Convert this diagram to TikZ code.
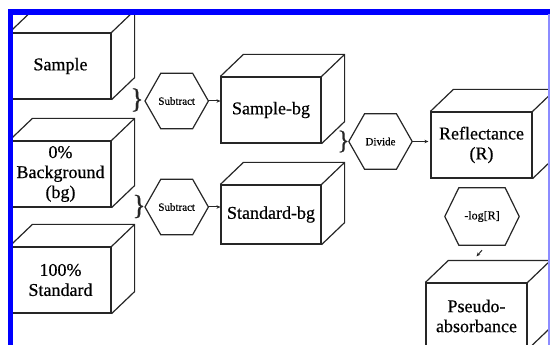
\documentclass[tikz,border=0pt]{standalone}
\usepackage{fontspec}
\setmainfont{Liberation Serif}[FakeBold=0.5]
\usetikzlibrary{calc,arrows.meta}

% depth faces of a box whose front face is the node #1
\newcommand\cubedepth[1]{%
  \draw[edge] (#1.north west) -- ++(23,-22) -- ($(#1.north east)+(23,-22)$)
    -- ($(#1.south east)+(23,-22)$) -- (#1.south east)
    (#1.north east) -- ++(23,-22);}
% hexagon outline around the node #1, with corner cut #2
\newcommand\hexoutline[2]{%
  \draw[edge] (#1.west) -- ([xshift=#2]#1.north west) -- ([xshift=-#2]#1.north east)
    -- (#1.east) -- ([xshift=-#2]#1.south east) -- ([xshift=#2]#1.south west) -- cycle;}

\begin{document}
\begin{tikzpicture}[x=1pt,y=-1pt,
  edge/.style={line width=1.2pt, draw=black!85, line join=miter},
  cube/.style={edge, rectangle, fill=white, inner sep=0pt,
    minimum width=101pt, minimum height=66pt, align=center,
    font=\fontsize{18}{20}\selectfont},
  hexa/.style={rectangle, inner sep=0pt, minimum width=63pt, minimum height=55pt,
    font=\fontsize{11}{12}\selectfont},
  arr/.style={line width=1pt, draw=black!85, -{Stealth[length=4pt,width=3.5pt]}},
  bracket/.style={inner sep=0pt, text=black!85},
]
\useasboundingbox (0,0) rectangle (550,345);

\begin{scope}
\clip (0,0) rectangle (548,345);

% input and result boxes
\node[cube] (sample) at (60.5,66) {Sample};
\node[cube] (bg) at (60.5,174) {0\%\\Background\\(bg)};
\node[cube] (std) at (60.5,280) {100\%\\Standard};
\node[cube, minimum width=100pt] (sbg) at (271,110) {Sample-bg};
\node[cube, minimum width=100pt, minimum height=59pt] (stdbg) at (271,214.5) {Standard-bg};
\node[cube] (refl) at (481.5,145) {Reflectance\\(R)};
\node[cube] (pseudo) at (476.5,316) {Pseudo-\\absorbance};
\foreach \n in {sample,bg,std,sbg,stdbg,refl,pseudo} {\cubedepth{\n}}

% operations
\node[hexa] (sub1) at (176.7,101) {Subtract};
\node[hexa] (sub2) at (176.7,207) {Subtract};
\node[hexa] (div) at (380.5,141.5) {Divide};
\node[hexa, minimum width=74pt, minimum height=57pt,
  font=\fontsize{12}{13}\selectfont] (logr) at (482,216.5) {-log[R]};
\hexoutline{sub1}{15.75pt}
\hexoutline{sub2}{15.75pt}
\hexoutline{div}{15.75pt}
\hexoutline{logr}{14pt}

% braces grouping the operands
\node[bracket, font=\fontsize{28}{28}\selectfont] (br1) at (137,100) {\}};
\node[bracket, font=\fontsize{28}{28}\selectfont] (br2) at (139,206.5) {\}};
\node[bracket, font=\fontsize{26}{26}\selectfont] (br3) at (343.5,141.5) {\}};

% flow
\draw[arr] (sub1.east) -- (sub1.east -| sbg.west);
\draw[arr] (sub2.east) -- (sub2.east -| stdbg.west);
\draw[arr] (div.east) -- ([xshift=-2pt]div.east -| refl.west);
\draw[arr] ([yshift=-5pt]logr.south) -- ([yshift=26pt]pseudo.north);
\end{scope}

% frame
\draw[blue, line width=5.2pt, line join=miter] (10.8,345) -- (10.8,12) -- (550,12);
\draw[blue!45, line width=1.5pt] (548.8,14) -- (548.8,345);
\end{tikzpicture}
\end{document}
